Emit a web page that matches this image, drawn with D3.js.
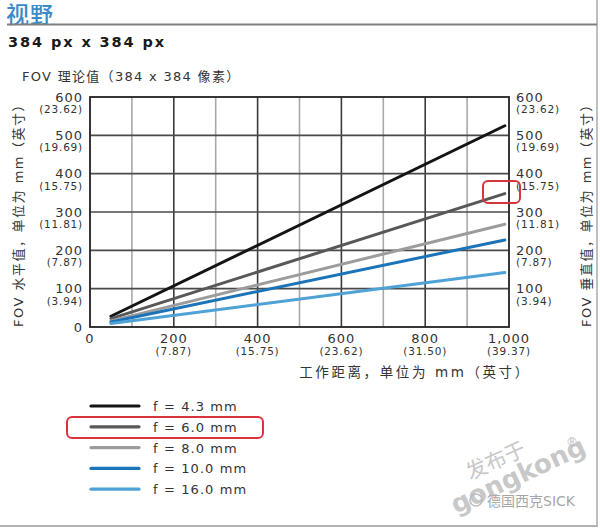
<!DOCTYPE html>
<html>
<head>
<meta charset="utf-8">
<script src="https://cdn.jsdelivr.net/npm/d3@7"></script>
<style>
  html, body { margin: 0; padding: 0; background: #fff; }
  svg { display: block; }
  text { font-family: "DejaVu Sans", "Noto Sans CJK SC", sans-serif; }
</style>
</head>
<body>
<svg id="chart" width="600" height="528"></svg>
<script>
// ---- data ----
const seriesLabels = ["f = 4.3 mm", "f = 6.0 mm", "f = 8.0 mm", "f = 10.0 mm", "f = 16.0 mm"];
const seriesColors = ["#141414", "#58585a", "#9c9c9c", "#1b74b8", "#4fa2d6"];
const workDistance = [50, 990];
const fovStart = [28, 22, 16, 13, 9];
const fovEnd = [525, 348, 268, 227, 142];
const yTicks = [0, 100, 200, 300, 400, 500, 600];
const yInchLabels = ["", "(3.94)", "(7.87)", "(11.81)", "(15.75)", "(19.69)", "(23.62)"];
const xTicks = [0, 200, 400, 600, 800, 1000];
const xTickLabels = ["0", "200", "400", "600", "800", "1,000"];
const xInchLabels = ["", "(7.87)", "(15.75)", "(23.62)", "(31.50)", "(39.37)"];
const xGrid = [100, 200, 300, 400, 500, 600, 700, 800, 900];
const yGrid = [100, 200, 300, 400, 500];

const svg = d3.select("#chart");
const x = d3.scaleLinear().domain([0, 1000]).range([90, 509]);
const y = d3.scaleLinear().domain([0, 600]).range([327, 97]);

// frame
svg.append("line").attr("x1", 0).attr("x2", 597).attr("y1", 526).attr("y2", 526).attr("stroke", "#999").attr("stroke-width", 1.5);
svg.append("line").attr("x1", 597).attr("x2", 597).attr("y1", 0).attr("y2", 527).attr("stroke", "#aaa").attr("stroke-width", 1.5);

// header
svg.append("text").attr("x", 6).attr("y", 22.5).attr("font-size", 23).attr("font-weight", 500).attr("fill", "#3a8bc6")
  .attr("font-family", "Noto Sans CJK SC").attr("letter-spacing", 1).text("视野");
svg.append("line").attr("x1", 7).attr("x2", 597).attr("y1", 24.5).attr("y2", 24.5).attr("stroke", "#808080").attr("stroke-width", 2);
svg.append("text").attr("x", 8).attr("y", 47).attr("font-size", 14.5).attr("font-weight", "bold")
  .attr("fill", "#1a1a1a").attr("letter-spacing", 1.9).text("384 px x 384 px");
svg.append("text").attr("x", 22).attr("y", 81).attr("font-size", 13).attr("fill", "#333")
  .attr("letter-spacing", 1.3).text("FOV 理论值（384 x 384 像素）");

// grid
const g = svg.append("g");
g.selectAll(".vg").data(xGrid).join("line")
  .attr("x1", d => x(d)).attr("x2", d => x(d)).attr("y1", y(600)).attr("y2", y(0))
  .attr("stroke", d => d % 200 === 0 ? "#3a3a3a" : "#a8a8a8").attr("stroke-width", 1.6);
g.selectAll(".hg").data(yGrid).join("line")
  .attr("x1", x(0)).attr("x2", x(1000)).attr("y1", d => y(d)).attr("y2", d => y(d))
  .attr("stroke", "#4a4a4a").attr("stroke-width", 1.6);
g.append("rect").attr("x", x(0)).attr("y", y(600)).attr("width", x(1000) - x(0)).attr("height", y(0) - y(600))
  .attr("fill", "none").attr("stroke", "#222").attr("stroke-width", 1.8);

// axes labels (left & right)
const yl = svg.append("g");
yTicks.forEach((t, i) => {
  yl.append("text").attr("x", 83).attr("y", y(t) + 4.5).attr("text-anchor", "end").attr("font-size", 13)
    .attr("letter-spacing", 1).attr("fill", "#333").text(t);
  yl.append("text").attr("x", 516).attr("y", y(t) + 4.5).attr("text-anchor", "start").attr("font-size", 13)
    .attr("letter-spacing", 1).attr("fill", "#333").text(t === 0 ? "" : t);
  if (yInchLabels[i]) {
    yl.append("text").attr("x", 83).attr("y", y(t) + 16).attr("text-anchor", "end").attr("font-size", 10.5)
      .attr("letter-spacing", 0.8).attr("fill", "#333").text(yInchLabels[i]);
    yl.append("text").attr("x", 516).attr("y", y(t) + 16).attr("text-anchor", "start").attr("font-size", 10.5)
      .attr("letter-spacing", 0.8).attr("fill", "#333").text(yInchLabels[i]);
  }
});
xTicks.forEach((t, i) => {
  svg.append("text").attr("x", x(t)).attr("y", 343).attr("text-anchor", "middle").attr("font-size", 13)
    .attr("letter-spacing", 1).attr("fill", "#333").text(xTickLabels[i]);
  if (xInchLabels[i]) {
    svg.append("text").attr("x", x(t)).attr("y", 355).attr("text-anchor", "middle").attr("font-size", 10.5)
      .attr("letter-spacing", 0.8).attr("fill", "#333").text(xInchLabels[i]);
  }
});
svg.append("text").attr("x", 415).attr("y", 377).attr("text-anchor", "middle").attr("font-size", 13.5)
  .attr("letter-spacing", 2.6).attr("fill", "#333").text("工作距离，单位为 mm（英寸）");
svg.append("text").attr("transform", "translate(23,212) rotate(-90)").attr("text-anchor", "middle")
  .attr("font-size", 13).attr("letter-spacing", 1.5).attr("fill", "#333").text("FOV 水平值，单位为 mm（英寸）");
svg.append("text").attr("transform", "translate(591,212) rotate(-90)").attr("text-anchor", "middle")
  .attr("font-size", 13).attr("letter-spacing", 1.5).attr("fill", "#333").text("FOV 垂直值，单位为 mm（英寸）");

// series lines
const line = d3.line().x(d => x(d[0])).y(d => y(d[1]));
seriesLabels.forEach((lab, i) => {
  const pts = [[workDistance[0], fovStart[i]], [workDistance[1], fovEnd[i]]];
  svg.append("path").attr("d", line(pts)).attr("fill", "none")
    .attr("stroke", seriesColors[i]).attr("stroke-width", 3).attr("stroke-linecap", "round");
});

// highlight box on plot
svg.append("rect").attr("x", 483).attr("y", 181).attr("width", 37).attr("height", 22).attr("rx", 5)
  .attr("fill", "none").attr("stroke", "#d8343b").attr("stroke-width", 2);

// legend
const lg = svg.append("g");
seriesLabels.forEach((lab, i) => {
  const yy = 406 + i * 20.8;
  lg.append("line").attr("x1", 91).attr("x2", 139).attr("y1", yy).attr("y2", yy)
    .attr("stroke", seriesColors[i]).attr("stroke-width", 3.2).attr("stroke-linecap", "round");
  lg.append("text").attr("x", 153).attr("y", yy + 5).attr("font-size", 13).attr("letter-spacing", 1.1)
    .attr("fill", "#333").text(lab);
});
lg.append("rect").attr("x", 67).attr("y", 417).attr("width", 196).attr("height", 21).attr("rx", 5)
  .attr("fill", "none").attr("stroke", "#d8343b").attr("stroke-width", 2);

// watermark
const wm = svg.append("g").attr("fill", "#c8c8c8");
wm.append("text").attr("transform", "translate(470,480) rotate(-24)").attr("font-size", 21)
  .attr("font-family", "Noto Sans CJK SC").text("发布于");
wm.append("text").attr("transform", "translate(456,514) rotate(-25)").attr("font-size", 26)
  .attr("font-weight", "bold").attr("font-family", "Liberation Sans").text("gongkong");
wm.append("text").attr("x", 566).attr("y", 446).attr("font-size", 12).attr("fill", "#bbb").text("®");
svg.append("circle").attr("cx", 476).attr("cy", 500).attr("r", 6).attr("fill", "none").attr("stroke", "#bbb").attr("stroke-width", 1.5);
svg.append("text").attr("x", 487).attr("y", 506).attr("font-size", 14).attr("fill", "#a6a6a6")
  .attr("font-family", "Noto Sans CJK SC").text("德国西克SICK");
</script>
</body>
</html>
